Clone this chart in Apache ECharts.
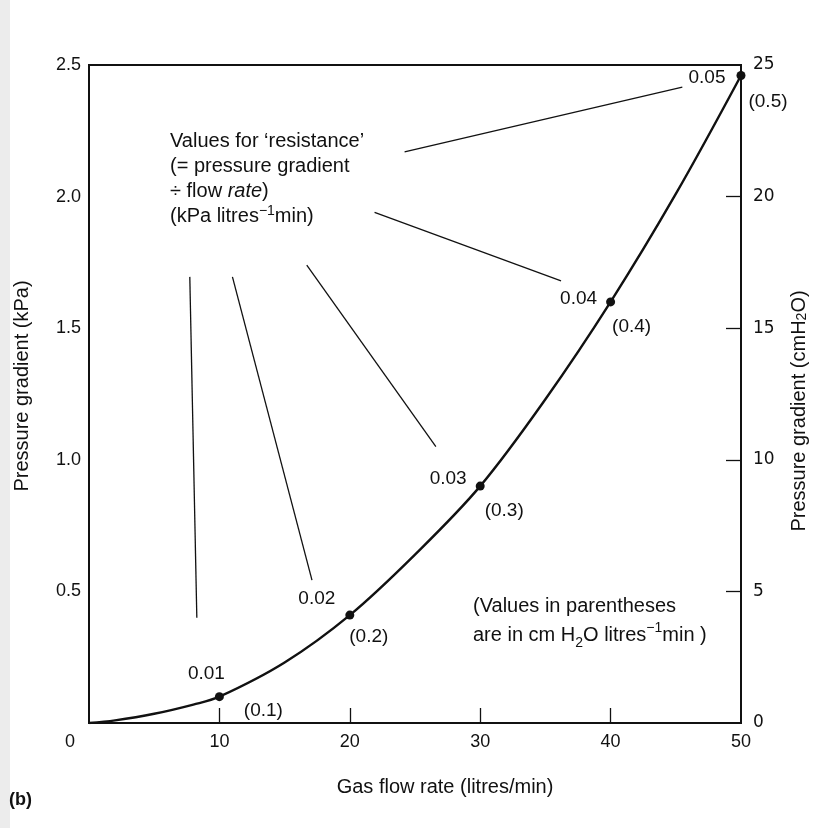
<!DOCTYPE html>
<html>
<head>
<meta charset="utf-8">
<script src="https://cdn.jsdelivr.net/npm/echarts@6/dist/echarts.min.js"></script>
<style>html,body{margin:0;padding:0;background:#fff}#c{width:817px;height:828px}</style>
</head>
<body>
<div id="c"></div>
<script>
// ---- data ----
const curveFlow     = [0, 2, 5, 8, 10, 15, 20, 25, 30, 35, 40, 45, 50];
const curvePressure = [0, 0.01, 0.035, 0.07, 0.1, 0.23, 0.41, 0.64, 0.9, 1.23, 1.6, 2.01, 2.46];
const markedFlow     = [10, 20, 30, 40, 50];
const markedPressure = [0.1, 0.41, 0.9, 1.6, 2.46];
const resistanceKPa   = ['0.01', '0.02', '0.03', '0.04', '0.05'];
const resistanceCmH2O = ['(0.1)', '(0.2)', '(0.3)', '(0.4)', '(0.5)'];
const xTickValues  = [0, 10, 20, 30, 40, 50];
const kPaTicks     = [0.5, 1.0, 1.5, 2.0, 2.5];
const cmH2OTicks   = [0, 5, 10, 15, 20, 25];
// leader lines from the note to each value (data coordinates)
const leaderStart = [[7.73, 1.695], [11.0, 1.695], [16.7, 1.74], [21.9, 1.94], [24.2, 2.17]];
const leaderEnd   = [[8.27, 0.40], [17.1, 0.543], [26.6, 1.05], [36.2, 1.68], [45.5, 2.416]];

// ---- styling (label placement offsets, px) ----
const kPaOffsets = [[-13, -23], [-33, -16], [-32, -7], [-32, -3], [-34, 2]];
const cmOffsets  = [[44, 14], [19, 22], [24, 25], [21, 25], [27, 26]];
const FONT = '"Liberation Sans", Arial, sans-serif';
const INK = '#111';

const chart = echarts.init(document.getElementById('c'), null, {renderer: 'canvas'});

const dots = markedFlow.map((x, i) => ({
  value: [x, markedPressure[i]],
  label: {offset: kPaOffsets[i]}
}));
const dotsCm = markedFlow.map((x, i) => ({
  value: [x, markedPressure[i]],
  label: {offset: cmOffsets[i]}
}));

const option = {
  backgroundColor: '#ffffff',
  animation: false,
  grid: {left: 89, right: 75, top: 65, bottom: 105, show: true, borderColor: INK, borderWidth: 2, backgroundColor: 'transparent'},
  xAxis: {
    type: 'value', min: 0, max: 50, interval: 10,
    name: 'Gas flow rate (litres/min)', nameLocation: 'middle', nameGap: 54,
    nameTextStyle: {fontFamily: FONT, fontSize: 20, color: INK, padding: [0, 0, 0, 60]},
    axisLine: {show: true, onZero: false, lineStyle: {color: INK, width: 2}},
    axisTick: {show: true, inside: true, length: 15, lineStyle: {color: INK, width: 1.3},
      customValues: [10, 20, 30, 40]},
    axisLabel: {
      margin: 10, fontFamily: FONT, fontSize: 18, color: INK,
      customValues: xTickValues,
      formatter: v => v === 0 ? '{z|0}' : String(v),
      rich: {z: {fontFamily: FONT, fontSize: 18, color: INK, padding: [0, 38, 0, 0]}}
    },
    splitLine: {show: false}
  },
  yAxis: [
    {
      type: 'value', min: 0, max: 2.5, interval: 0.5, position: 'left',
      name: 'Pressure gradient (kPa)', nameLocation: 'middle', nameGap: 57, nameRotate: 90,
      nameTextStyle: {fontFamily: FONT, fontSize: 20, color: INK, padding: [0, 0, 0, 16]},
      axisLine: {show: true, lineStyle: {color: INK, width: 2}},
      axisTick: {show: false},
      axisLabel: {
        margin: 8, fontFamily: FONT, fontSize: 18, color: INK,
        customValues: kPaTicks,
        formatter: v => v.toFixed(1)
      },
      splitLine: {show: false}
    },
    {
      type: 'value', min: 0, max: 25, interval: 5, position: 'right',
      name: 'Pressure gradient (cmH{s|2}O)', nameLocation: 'middle', nameGap: 48, nameRotate: 90,
      nameTextStyle: {fontFamily: FONT, fontSize: 20, color: INK, padding: [0, 34, 0, 0],
        rich: {s: {fontFamily: FONT, fontSize: 14, color: INK, verticalAlign: 'bottom', lineHeight: 14}}},
      axisLine: {show: true, lineStyle: {color: INK, width: 2}},
      axisTick: {show: true, inside: true, length: 15, lineStyle: {color: INK, width: 1.3},
        customValues: [5, 10, 15, 20]},
      axisLabel: {margin: 12, fontFamily: '"DejaVu Sans", sans-serif', fontSize: 17, color: INK,
        customValues: cmH2OTicks},
      splitLine: {show: false}
    }
  ],
  series: [
    {
      type: 'line', smooth: 0.35, symbol: 'none',
      data: curveFlow.map((x, i) => [x, curvePressure[i]]),
      lineStyle: {color: INK, width: 2.4},
      z: 3
    },
    {
      type: 'scatter', symbol: 'circle', symbolSize: 9,
      itemStyle: {color: INK, opacity: 1},
      data: dots,
      label: {show: true, position: 'inside', fontFamily: FONT, fontSize: 19, color: INK, opacity: 1,
        formatter: p => resistanceKPa[p.dataIndex]},
      emphasis: {disabled: true},
      markLine: {
        silent: true, symbol: 'none', animation: false,
        lineStyle: {color: INK, width: 1.3, type: 'solid', opacity: 1},
        label: {show: false},
        emphasis: {disabled: true},
        data: leaderStart.map((s, i) => [{coord: s}, {coord: leaderEnd[i]}])
      },
      z: 4
    },
    {
      type: 'scatter', symbolSize: 0,
      itemStyle: {opacity: 1},
      data: dotsCm,
      label: {show: true, position: 'inside', fontFamily: FONT, fontSize: 19, color: INK, opacity: 1,
        formatter: p => resistanceCmH2O[p.dataIndex]},
      emphasis: {disabled: true},
      z: 4
    }
  ],
  graphic: [
    {type: 'rect', left: 0, top: 0, z: -10, shape: {width: 10, height: 828}, style: {fill: '#ececec'}},
    {
      type: 'text', left: 170, top: 129, z: 10,
      style: {
        text: "Values for ‘resistance’\n(= pressure gradient\n÷ flow {i|rate})\n(kPa litres{sup|−1}min)",
        fontFamily: FONT, fontSize: 20, lineHeight: 25, fill: INK,
        rich: {
          i: {fontFamily: FONT, fontSize: 20, fontStyle: 'italic', fill: INK, lineHeight: 25},
          sup: {fontFamily: FONT, fontSize: 14, fill: INK, lineHeight: 15, verticalAlign: 'top'}
        }
      }
    },
    {
      type: 'text', left: 473, top: 592, z: 10,
      style: {
        text: "(Values in parentheses\nare in cm H{s|2}O litres{sup|−1}min )",
        fontFamily: FONT, fontSize: 20, lineHeight: 29, fill: INK,
        rich: {
          s: {fontFamily: FONT, fontSize: 14, fill: INK, verticalAlign: 'bottom', lineHeight: 18},
          sup: {fontFamily: FONT, fontSize: 14, fill: INK, lineHeight: 19, verticalAlign: 'top'}
        }
      }
    },
    {
      type: 'text', left: 9, top: 791, z: 10,
      style: {text: '(b)', fontFamily: FONT, fontSize: 18, fontWeight: 'bold', fill: INK}
    }
  ]
};
chart.setOption(option);
</script>
</body>
</html>
